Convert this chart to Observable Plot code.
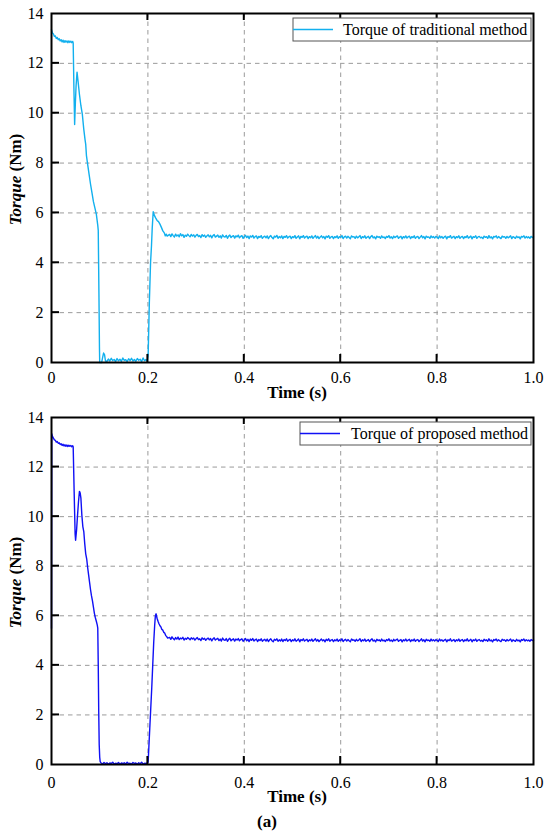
<!DOCTYPE html>
<html><head><meta charset="utf-8">
<script src="https://cdn.jsdelivr.net/npm/d3@7"></script>
<script src="https://cdn.jsdelivr.net/npm/@observablehq/plot@0.6"></script>
<style>
body{margin:0;background:#fff;}
#wrap{width:550px;}
#wrap svg{display:block;font-family:"Liberation Serif","Times New Roman",serif !important;}
#wrap svg text{font-family:"Liberation Serif","Times New Roman",serif !important;}
</style></head><body><div id="wrap"></div>
<script>
// ---------- axis ticks ----------
const xTicks = [0, 0.2, 0.4, 0.6, 0.8, 1.0];
const yTicks = [0, 2, 4, 6, 8, 10, 12, 14];

// ---------- legend / label text ----------
const tradLabel = "Torque of traditional method";
const propLabel = "Torque of proposed method";

// ---------- traditional method (s, Nm) ----------
const tradStartV = [13.35, 13.22, 13.18, 13.08, 13.10, 13.00, 13.04, 12.95, 12.99, 12.90, 12.95, 12.86,
  12.93, 12.84, 12.91, 12.85, 12.90, 12.83, 12.90, 12.84, 12.89, 12.83, 12.88]; // t = 0 .. 0.044, step 0.002
const tradDrop = [[0.045, 12.82], [0.0465, 11.0], [0.048, 9.55], [0.0495, 10.4], [0.051, 11.1], [0.053, 11.65],
  [0.055, 11.3], [0.058, 10.75], [0.061, 10.3], [0.064, 9.95], [0.067, 9.35], [0.0695, 8.95], [0.071, 8.75],
  [0.0725, 8.3], [0.075, 7.95], [0.078, 7.55], [0.081, 7.15], [0.084, 6.8], [0.087, 6.45], [0.09, 6.2],
  [0.093, 5.95], [0.096, 5.5], [0.097, 5.3], [0.0985, 2.6], [0.0995, 0.6], [0.1, 0], [0.104, 0],
  [0.106, 0.2], [0.108, 0.38], [0.110, 0.32], [0.112, 0.06]];
const tradZeroV = [0.05, 0.14, 0.06, 0.17, 0.08, 0.12, 0.04, 0.16, 0.07, 0.13, 0.05, 0.18, 0.09, 0.11, 0.04,
  0.15, 0.08, 0.17, 0.06, 0.12, 0.05, 0.16, 0.09, 0.13, 0.04, 0.18, 0.07, 0.12, 0.05]; // t = 0.115 .. 0.199, step 0.003
const tradRise = [[0.2005, 0.3], [0.203, 2.4], [0.2055, 4.0], [0.2075, 4.7], [0.209, 5.4], [0.211, 6.05],
  [0.213, 5.92], [0.216, 5.8], [0.219, 5.7], [0.222, 5.65], [0.225, 5.55], [0.228, 5.42], [0.231, 5.28],
  [0.234, 5.2], [0.236, 5.08], [0.238, 5.15], [0.240, 5.07]];
const tradSteadyV = [ // t = 0.245 .. 1.0, step 0.0025
  5.14,5.05,5.16,5.09,5.03,5.15,5.07,5.12,5.04,5.17,5.08,5.13,5.02,5.11,5.06,5.15,5.09,5.04,5.14,5.07,
  5.12,5.03,5.10,5.14,5.05,5.09,5.01,5.13,5.06,5.11,5.02,5.08,5.12,5.04,5.10,5.00,5.09,5.13,5.03,5.07,
  5.11,5.02,5.08,4.99,5.12,5.05,5.03,5.10,4.98,5.07,5.11,5.01,5.06,5.09,4.99,5.08,5.04,5.11,5.00,5.06,
  5.09,4.98,5.05,5.10,5.01,5.07,4.97,5.08,5.03,5.10,4.99,5.05,5.08,4.97,5.06,5.02,5.09,4.98,5.04,5.07,
  5.00,5.08,4.97,5.05,5.09,5.01,4.96,5.07,5.03,5.10,4.98,5.05,5.00,5.08,4.97,5.06,5.02,5.09,4.99,5.04,
  5.07,4.97,5.05,5.01,5.09,4.98,5.03,5.08,4.96,5.06,5.02,5.09,4.99,5.04,5.07,4.97,5.05,5.00,5.08,4.98,
  5.04,5.09,4.99,5.06,4.97,5.03,5.08,5.00,5.05,4.96,5.07,5.02,5.09,4.98,5.04,5.06,4.97,5.05,5.01,5.08,
  4.98,5.05,5.02,5.09,4.97,5.04,5.07,4.99,5.06,5.01,4.96,5.08,5.03,5.05,4.98,5.07,5.00,5.04,5.09,4.97,
  5.05,5.01,5.08,4.98,5.03,5.06,4.97,5.05,5.09,5.00,5.04,4.96,5.07,5.02,5.05,4.98,5.08,5.01,5.04,4.97,
  5.06,5.02,5.09,4.99,5.04,4.97,5.07,5.01,5.05,5.08,4.98,5.03,5.06,4.96,5.05,5.00,5.08,4.99,5.04,5.07,
  4.97,5.05,5.01,5.08,4.98,5.04,5.06,4.97,5.03,5.09,5.00,5.05,4.96,5.07,5.02,5.04,4.98,5.08,5.01,5.05,
  4.99,5.06,5.03,4.97,5.08,5.00,5.05,4.98,5.04,5.07,4.96,5.05,5.02,5.09,4.99,5.03,5.06,4.97,5.05,5.01,
  5.08,4.98,5.04,5.06,4.97,5.05,5.01,5.09,4.99,5.03,5.07,4.96,5.05,5.02,5.08,4.98,5.04,5.06,5.00,5.03,
  4.97,5.07,5.02,5.05,4.98,5.09,5.00,5.04,4.96,5.06,5.03,5.08,4.99,5.05,5.01,4.97,5.07,5.03,5.05,4.98,
  5.06,5.00,5.04,5.08,4.97,5.05,5.02,4.98,5.07,5.01,5.04,4.96,5.06,5.03,5.08,4.99,5.05,5.00,5.04,4.98,
  5.06,5.01,5.04];

// ---------- proposed method (s, Nm) ----------
const propHead = [[0, 5.5], [0.0005, 13.35]];
const propStartV = [13.24, 13.17, 13.1, 13.08, 13.01, 13.03, 12.96, 12.98, 12.91, 12.94, 12.87, 12.92,
  12.85, 12.9, 12.84, 12.89, 12.83, 12.88, 12.84, 12.87, 12.82, 12.86]; // t = 0.002 .. 0.044, step 0.002
const propDrop = [[0.045, 12.82], [0.047, 11.0], [0.049, 9.3], [0.050, 9.05], [0.052, 9.45], [0.054, 10.05],
  [0.056, 10.6], [0.058, 11.02], [0.0595, 10.95], [0.061, 10.75], [0.063, 10.05], [0.065, 9.6], [0.067, 9.4],
  [0.069, 8.9], [0.071, 8.5], [0.073, 8.3], [0.075, 7.95], [0.077, 7.65], [0.079, 7.35], [0.081, 7.05],
  [0.083, 6.8], [0.085, 6.6], [0.087, 6.35], [0.089, 6.1], [0.091, 5.92], [0.093, 5.78], [0.095, 5.62],
  [0.096, 5.5], [0.097, 4.0], [0.098, 2.1], [0.099, 0.8], [0.100, 0.3], [0.101, 0.12]];
const propZeroV = [0.06, 0.02, 0.08, 0.03, 0.07, 0.01, 0.06, 0.04, 0.09, 0.02, 0.05, 0.03, 0.08, 0.01, 0.06,
  0.04, 0.07, 0.02, 0.09, 0.03, 0.05, 0.02, 0.08, 0.04, 0.06, 0.01, 0.07, 0.03, 0.09, 0.02, 0.05, 0.04, 0.06]; // t = 0.103 .. 0.199
const propRise = [[0.2005, 0.1], [0.202, 0.7], [0.204, 1.5], [0.206, 2.3], [0.208, 3.1], [0.210, 4.0],
  [0.212, 4.9], [0.214, 5.6], [0.2155, 6.0], [0.217, 6.08], [0.219, 5.9], [0.221, 5.78], [0.223, 5.68],
  [0.225, 5.6], [0.227, 5.55], [0.229, 5.45], [0.231, 5.42], [0.233, 5.33], [0.235, 5.3], [0.237, 5.2],
  [0.239, 5.16], [0.241, 5.1]];
const propSteadyV = [ // t = 0.245 .. 1.0, step 0.0025
  5.13,5.05,5.15,5.08,5.03,5.12,5.06,5.14,5.04,5.10,5.07,5.13,5.02,5.09,5.05,5.12,5.08,5.03,5.11,5.06,
  5.10,5.02,5.08,5.12,5.04,5.07,5.00,5.11,5.05,5.09,5.01,5.07,5.10,5.03,5.08,4.99,5.07,5.11,5.02,5.06,
  5.09,5.00,5.06,4.98,5.10,5.03,5.01,5.08,4.97,5.05,5.09,4.99,5.04,5.07,4.98,5.06,5.02,5.08,4.99,5.04,
  5.07,4.97,5.03,5.08,4.99,5.05,4.96,5.06,5.01,5.08,4.98,5.03,5.06,4.96,5.04,5.00,5.07,4.97,5.02,5.05,
  4.98,5.06,4.96,5.03,5.07,4.99,4.95,5.05,5.01,5.07,4.97,5.03,4.98,5.06,4.96,5.04,5.00,5.07,4.97,5.02,
  5.05,4.96,5.03,4.99,5.07,4.97,5.01,5.06,4.95,5.04,5.00,5.07,4.98,5.02,5.05,4.96,5.03,4.99,5.06,4.97,
  5.02,5.07,4.98,5.04,4.96,5.01,5.06,4.99,5.03,4.95,5.05,5.00,5.07,4.97,5.02,5.04,4.96,5.03,4.99,5.06,
  4.97,5.03,5.00,5.07,4.96,5.02,5.05,4.98,5.04,4.99,4.95,5.06,5.01,5.03,4.97,5.05,4.99,5.02,5.07,4.96,
  5.03,4.99,5.06,4.97,5.01,5.04,4.96,5.03,5.07,4.98,5.02,4.95,5.05,5.00,5.03,4.97,5.06,4.99,5.02,4.96,
  5.04,5.00,5.07,4.98,5.02,4.96,5.05,4.99,5.03,5.06,4.97,5.01,5.04,4.95,5.03,4.99,5.06,4.98,5.02,5.05,
  4.96,5.03,4.99,5.06,4.97,5.02,5.04,4.96,5.01,5.07,4.98,5.03,4.95,5.05,5.00,5.02,4.97,5.06,4.99,5.03,
  4.98,5.04,5.01,4.96,5.06,4.99,5.03,4.97,5.02,5.05,4.95,5.03,5.00,5.07,4.98,5.01,5.04,4.96,5.03,4.99,
  5.06,4.97,5.02,5.04,4.96,5.03,4.99,5.07,4.98,5.01,5.05,4.95,5.03,5.00,5.06,4.97,5.02,5.04,4.98,5.01,
  4.96,5.05,5.00,5.03,4.97,5.07,4.99,5.02,4.95,5.04,5.01,5.06,4.98,5.03,4.99,4.96,5.05,5.01,5.03,4.97,
  5.04,4.99,5.02,5.06,4.96,5.03,5.00,4.97,5.05,4.99,5.02,4.95,5.04,5.01,5.06,4.98,5.03,4.99,5.02,4.97,
  5.04,5.00,5.02];

// ---------- assemble ----------
const seq = (t0, step, vals) => vals.map((v, i) => ({t: +(t0 + i * step).toFixed(5), v}));
const pairs = arr => arr.map(([t, v]) => ({t, v}));
const tradData = [...seq(0, 0.002, tradStartV), ...pairs(tradDrop), ...seq(0.115, 0.003, tradZeroV),
  ...pairs(tradRise), ...seq(0.245, 0.0025, tradSteadyV)];
const propData = [...pairs(propHead), ...seq(0.002, 0.002, propStartV), ...pairs(propDrop),
  ...seq(0.103, 0.003, propZeroV), ...pairs(propRise), ...seq(0.245, 0.0025, propSteadyV)];

const FONT = "Liberation Serif";
const fmtX = d => d === 0 ? "0" : d.toFixed(1);

function makeChart({data, color, label, height, mTop, mBottom, tickPad, legend, xLabelDy, caption}) {
  const gridStyle = {stroke: "#9a9a9a", strokeOpacity: 1, strokeWidth: 1, strokeDasharray: "4.5,4"};
  const inner = xTicks.slice(1, -1);
  const innerY = yTicks.slice(1, -1);
  const chart = Plot.plot({
    width: 550, height,
    marginLeft: 51, marginRight: 17, marginTop: mTop, marginBottom: mBottom,
    style: {fontFamily: FONT, fontSize: "16px", background: "white", color: "black", overflow: "visible"},
    x: {domain: [0, 1], label: null},
    y: {domain: [0, 14], label: null},
    marks: [
      Plot.gridX(inner, gridStyle),
      Plot.gridY(innerY, gridStyle),
      Plot.line(data, {x: "t", y: "v", stroke: color, strokeWidth: 1.4}),
      Plot.axisX(xTicks, {tickSize: 0, tickPadding: tickPad, tickFormat: fmtX, fontSize: 16, fontFamily: FONT, label: null}),
      Plot.axisY(yTicks, {tickSize: 0, tickPadding: 8, fontSize: 16, fontFamily: FONT, label: null}),
      Plot.frame({stroke: "black", strokeWidth: 2})
    ]
  });
  const svg = d3.select(chart);
  const sx = chart.scale("x"), sy = chart.scale("y");
  const plotTop = mTop, plotBottom = height - mBottom, plotLeft = 51;
  // inward tick marks, placed through the chart's own scales
  const tg = svg.append("g").attr("stroke", "black").attr("stroke-width", 2);
  inner.forEach(t => {
    const px = sx.apply(t);
    tg.append("line").attr("x1", px).attr("x2", px).attr("y1", plotBottom).attr("y2", plotBottom - 8);
    tg.append("line").attr("x1", px).attr("x2", px).attr("y1", plotTop).attr("y2", plotTop + 7);
  });
  innerY.forEach(v => {
    const py = sy.apply(v);
    tg.append("line").attr("x1", plotLeft).attr("x2", plotLeft + 8).attr("y1", py).attr("y2", py);
  });
  // legend
  const lg = svg.append("g");
  lg.append("rect").attr("x", legend.x).attr("y", plotTop + 5).attr("width", 531 - legend.x).attr("height", 23)
    .attr("fill", "white").attr("stroke", "#555").attr("stroke-width", 1);
  lg.append("line").attr("x1", legend.x).attr("x2", legend.x + 40).attr("y1", plotTop + 16.5).attr("y2", plotTop + 16.5)
    .attr("stroke", color).attr("stroke-width", 1.5);
  lg.append("text").attr("x", legend.x + legend.tx).attr("y", plotTop + 16.5).attr("dominant-baseline", "central")
    .attr("text-anchor", "start")
    .attr("font-family", FONT).attr("font-size", 16).attr("fill", "black").text(label);
  // y label
  const yl = svg.append("text")
    .attr("transform", `translate(15,${(plotTop + plotBottom) / 2 - 8}) rotate(-90)`)
    .attr("text-anchor", "middle").attr("dominant-baseline", "central")
    .attr("font-family", FONT).attr("font-size", 17).attr("font-weight", "bold").attr("fill", "black");
  yl.append("tspan").attr("font-style", "italic").text("Torque");
  yl.append("tspan").text(" (Nm)");
  // x label
  svg.append("text").attr("x", 297).attr("y", plotBottom + xLabelDy).attr("text-anchor", "middle")
    .attr("dominant-baseline", "central").attr("font-family", FONT).attr("font-size", 17)
    .attr("font-weight", "bold").attr("fill", "black").text("Time (s)");
  if (caption) {
    svg.append("text").attr("x", 267).attr("y", plotBottom + 57).attr("text-anchor", "middle")
      .attr("dominant-baseline", "central").attr("font-family", FONT).attr("font-size", 17)
      .attr("font-weight", "bold").attr("fill", "black").text(caption);
  }
  return chart;
}

const wrap = document.getElementById("wrap");
wrap.appendChild(makeChart({data: tradData, color: "#12B0EE", label: tradLabel, height: 400,
  mTop: 13, mBottom: 38, tickPad: 9, legend: {x: 293, tx: 50}, xLabelDy: 30.5}));
wrap.appendChild(makeChart({data: propData, color: "#1010F5", label: propLabel, height: 432,
  mTop: 17, mBottom: 68, tickPad: 12, legend: {x: 300, tx: 51}, xLabelDy: 32, caption: "(a)"}));
</script></body></html>
